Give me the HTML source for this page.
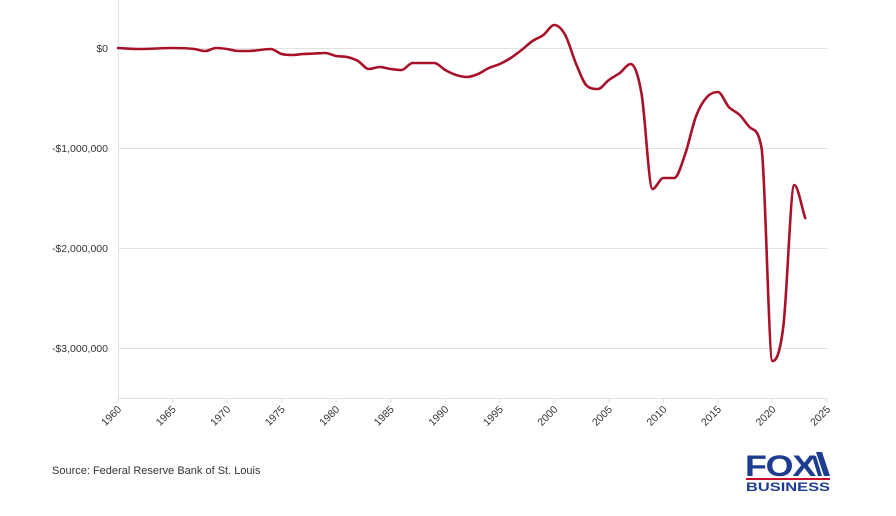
<!DOCTYPE html>
<html><head><meta charset="utf-8"><style>
body{margin:0;background:#fff;font-family:"Liberation Sans",sans-serif;}
svg{display:block}
</style></head><body>
<svg id="s" width="896" height="516" xmlns="http://www.w3.org/2000/svg" font-family="Liberation Sans, sans-serif">
<g stroke="#e2e2e2" stroke-width="1">
<line x1="118" y1="48.5" x2="827" y2="48.5"/>
<line x1="118" y1="148.5" x2="827" y2="148.5"/>
<line x1="118" y1="248.5" x2="827" y2="248.5"/>
<line x1="118" y1="348.5" x2="827" y2="348.5"/>
<line x1="118.5" y1="0" x2="118.5" y2="398"/>
<line x1="118" y1="398.5" x2="827" y2="398.5"/>
</g>
<g font-size="10.5" fill="#333" text-anchor="end">
<text x="108" y="52">$0</text>
<text x="108" y="152">-$1,000,000</text>
<text x="108" y="252">-$2,000,000</text>
<text x="108" y="352">-$3,000,000</text>
</g>
<g id="xt" font-size="10.5" fill="#333"></g>
<path id="p" fill="none" stroke="#a8112a" stroke-width="2.6" stroke-linejoin="round" stroke-linecap="round"/>
<text x="52" y="474" font-size="11" fill="#333">Source: Federal Reserve Bank of St. Louis</text>
<g>
<text x="745" y="476" font-size="30" font-weight="bold" fill="#1d3c8f" letter-spacing="-1" textLength="70" lengthAdjust="spacingAndGlyphs">FOX</text>
<polygon points="816,452 822,452 830,476 824,476" fill="#1d3c8f"/>
<polygon points="812,456 816,456 822,476 818,476" fill="#1d3c8f"/>
<rect x="746" y="478" width="84" height="2" fill="#c8102e"/>
<text x="746" y="491" font-size="11.5" font-weight="bold" fill="#1d3c8f" textLength="84" lengthAdjust="spacingAndGlyphs">BUSINESS</text>
</g>
</svg>
<script>
var d={1960:0,1962:-0.01,1965:0,1967:-0.01,1968:-0.03,1969:0,1970:-0.01,1971:-0.03,1972:-0.03,1974:-0.01,1975:-0.06,1976:-0.07,1977:-0.06,1978:-0.055,1979:-0.05,1980:-0.08,1981:-0.09,1982:-0.13,1983:-0.21,1984:-0.19,1985:-0.21,1986:-0.22,1987:-0.15,1988:-0.15,1989:-0.15,1990:-0.22,1991:-0.27,1992:-0.29,1993:-0.26,1994:-0.2,1995:-0.16,1996:-0.1,1997:-0.02,1998:0.07,1999:0.13,2000:0.23,2001:0.13,2002:-0.16,2003:-0.38,2004:-0.41,2005:-0.32,2006:-0.25,2007:-0.16,2008:-0.46,2009:-1.41,2010:-1.3,2011:-1.3,2012:-1.06,2013:-0.68,2014:-0.49,2015:-0.44,2016:-0.59,2017:-0.67,2018:-0.8,2019:-1.0,2020:-3.13,2021:-2.78,2022:-1.37,2023:-1.7};
function X(y){return 118+(y-1960)*709/65}
var P=Object.keys(d).map(function(k){return [X(+k),48-d[k]*100]});
var n=P.length,dl=[],m=[];
for(var i=0;i<n-1;i++)dl.push((P[i+1][1]-P[i][1])/(P[i+1][0]-P[i][0]));
m[0]=dl[0];m[n-1]=dl[n-2];
for(i=1;i<n-1;i++){m[i]=(dl[i-1]*dl[i]<=0)?0:(dl[i-1]+dl[i])/2;}
for(i=0;i<n-1;i++){if(dl[i]==0){m[i]=m[i+1]=0;continue;}var a=m[i]/dl[i],b=m[i+1]/dl[i],t=a*a+b*b;if(t>9){var k=3/Math.sqrt(t);m[i]=k*a*dl[i];m[i+1]=k*b*dl[i];}}
var s="M"+P[0][0]+","+P[0][1];
for(i=0;i<n-1;i++){var h=(P[i+1][0]-P[i][0])/3;
s+=" C"+(P[i][0]+h)+","+(P[i][1]+m[i]*h)+" "+(P[i+1][0]-h)+","+(P[i+1][1]-m[i+1]*h)+" "+P[i+1][0]+","+P[i+1][1];}
document.getElementById("p").setAttribute("d",s);
var g=document.getElementById("xt"),hh="";
for(var y=1960;y<=2025;y+=5){var x=X(y);hh+='<line x1="'+x+'" y1="398" x2="'+x+'" y2="403" stroke="#ddd"/><text transform="translate('+(x+4)+',410) rotate(-45)" text-anchor="end">'+y+'</text>';}
g.innerHTML=hh;
</script>
</body></html>
